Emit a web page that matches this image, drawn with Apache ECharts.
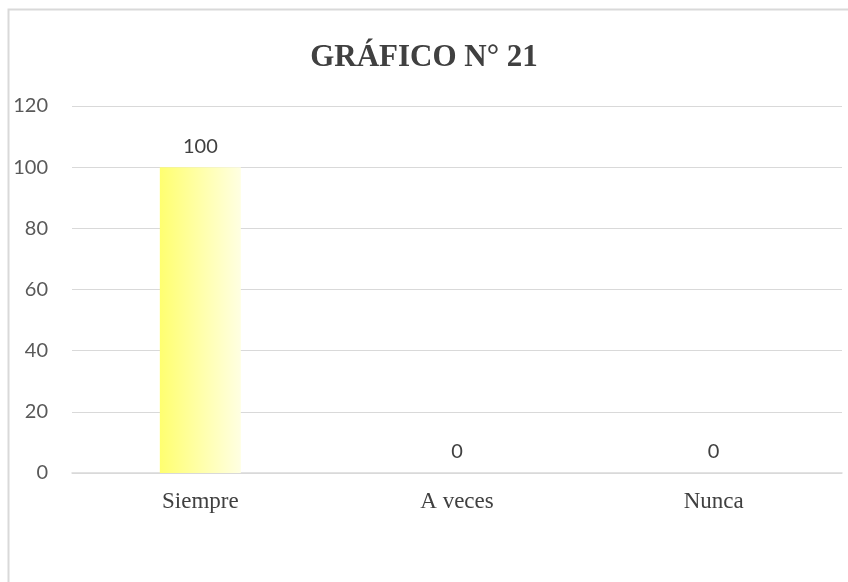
<!DOCTYPE html>
<html lang="es">
<head>
    <meta charset="UTF-8">
    <title>Gráfico 21</title>
    <script src="https://cdn.jsdelivr.net/npm/echarts@6.0.0/dist/echarts.min.js"></script>
    <style>
        html, body { margin: 0; padding: 0; background: #fff; }
    </style>
</head>
<body>
<div id="chart" style="width: 848px; height:582px;"></div>
<script>
    var categories = ['Siempre', 'A veces', 'Nunca'];
    var values = [100, 0, 0];
    var yTicks = [0, 20, 40, 60, 80, 100, 120];

    var chart = echarts.init(document.getElementById('chart'));
    var option = {
        backgroundColor: '#fff',
        animation: false,
        title: {
            text: 'GRÁFICO N° 21',
            left: 'center',
            top: 37,
            textStyle: {
                fontFamily: 'Liberation Serif',
                fontWeight: 'bold',
                fontSize: 31,
                color: '#404040'
            }
        },
        graphic: [{
            type: 'rect',
            shape: { x: 8.5, y: 9.5, width: 900, height: 700 },
            style: { fill: 'none', stroke: '#d9d9d9', lineWidth: 2 },
            silent: true
        }],
        grid: {
            left: 72,
            right: 6,
            top: 106,
            bottom: 109,
            containLabel: false
        },
        xAxis: {
            type: 'category',
            data: categories,
            axisLine: { lineStyle: { color: '#d9d9d9', width: 1.5 } },
            axisTick: { show: false },
            axisLabel: {
                fontFamily: 'Liberation Serif',
                fontSize: 23,
                color: '#404040',
                margin: 17
            }
        },
        yAxis: {
            type: 'value',
            min: yTicks[0],
            max: yTicks[yTicks.length - 1],
            interval: 20,
            axisLine: { show: false },
            axisTick: { show: false },
            splitLine: { lineStyle: { color: '#d9d9d9', width: 1 } },
            axisLabel: {
                fontFamily: 'Lato',
                fontSize: 20,
                color: '#595959',
                margin: 24
            }
        },
        series: [{
            type: 'bar',
            data: values,
            barWidth: 81,
            itemStyle: {
                color: new echarts.graphic.LinearGradient(0, 0, 1, 0, [
                    { offset: 0, color: '#ffff70' },
                    { offset: 1, color: '#ffffe2' }
                ])
            },
            label: {
                show: true,
                position: 'top',
                distance: 11,
                fontFamily: 'Lato',
                fontSize: 20,
                color: '#404040'
            }
        }]
    };
    chart.setOption(option);
</script>
</body>
</html>
